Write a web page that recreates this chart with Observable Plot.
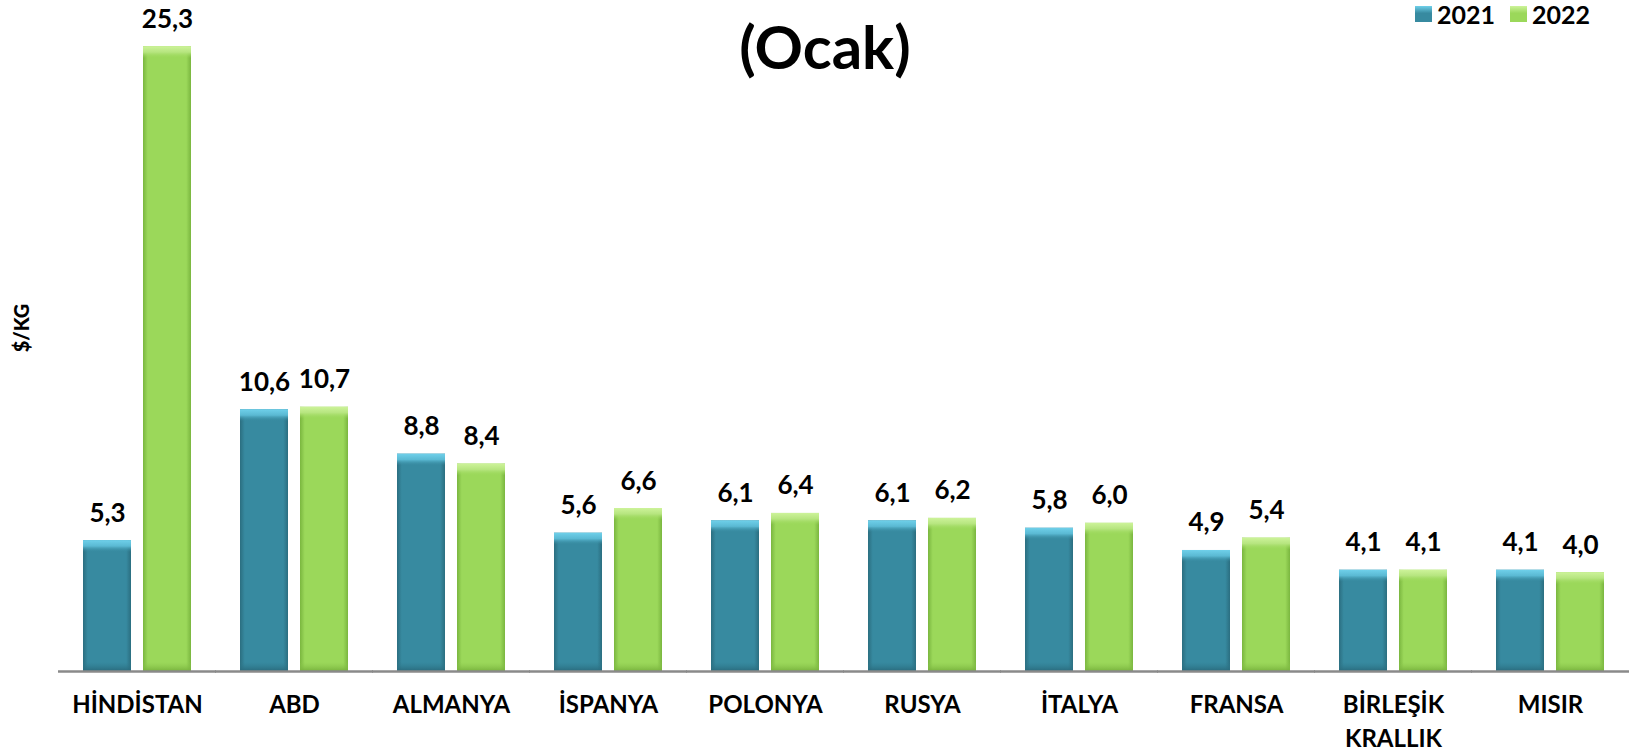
<!DOCTYPE html>
<html>
<head>
<meta charset="utf-8">
<script src="https://cdn.jsdelivr.net/npm/d3@7"></script>
<script src="https://cdn.jsdelivr.net/npm/@observablehq/plot@0.6"></script>
<style>
  html, body { margin: 0; padding: 0; background: #fff; }
  #wrap { position: relative; width: 1631px; height: 752px; overflow: hidden; font-family: Lato, "Open Sans", sans-serif; font-weight: bold; }
  #title { position: absolute; left: 0; width: 1650px; top: 10px; text-align: center; font-size: 60px; line-height: 72px; color: #000; }
  #ylabel { position: absolute; left: 21px; top: 328px; transform: translate(-50%, -50%) rotate(-90deg); font-size: 20px; font-weight: 900; white-space: nowrap; }
  #legend { position: absolute; left: 1415px; top: 0px; display: flex; align-items: center; font-size: 25px; line-height: 28px; }
  #legend .sw { width: 17px; height: 16px; display: inline-block; margin-right: 5px; }
  #legend .item { display: flex; align-items: center; margin-right: 15px; }
</style>
</head>
<body>
<div id="wrap">
  <div id="chart"></div>
  <div id="title">(Ocak)</div>
  <div id="ylabel">$/KG</div>
  <div id="legend"></div>
</div>
<script>
const countries = ["HİNDİSTAN", "ABD", "ALMANYA", "İSPANYA", "POLONYA", "RUSYA", "İTALYA", "FRANSA", "BİRLEŞİK KRALLIK", "MISIR"];
const years = ["2021", "2022"];
const values2021 = [5.3, 10.6, 8.8, 5.6, 6.1, 6.1, 5.8, 4.9, 4.1, 4.1];
const values2022 = [25.3, 10.7, 8.4, 6.6, 6.4, 6.2, 6.0, 5.4, 4.1, 4.0];

const data = [];
countries.forEach((c, i) => {
  data.push({country: c, year: "2021", value: values2021[i]});
  data.push({country: c, year: "2022", value: values2022[i]});
});
const d21 = data.filter(d => d.year === "2021");
const d22 = data.filter(d => d.year === "2022");
const fmt = v => d3.format(".1f")(v).replace(".", ",");

const font = "Lato, 'Open Sans', sans-serif";

const chart = Plot.plot({
  width: 1631,
  height: 752,
  marginLeft: 57,
  marginRight: 1,
  marginTop: 20,
  marginBottom: 81,
  style: {fontFamily: font, fontWeight: "bold", color: "#000", background: "#fff"},
  fx: {domain: countries, paddingInner: 0.31, paddingOuter: 0.155, label: null},
  x: {domain: years, paddingInner: 0.2, paddingOuter: 0, axis: null},
  y: {domain: [0, 26.36], axis: null},
  marks: [
    Plot.barY(d21, {fx: "country", x: "year", y: "value", fill: "url(#g2021)"}),
    Plot.barY(d22, {fx: "country", x: "year", y: "value", fill: "url(#g2022)"}),
    Plot.barY(d21, {fx: "country", x: "year", y1: "value", y2: "value", insetBottom: -12, fill: "url(#t2021)"}),
    Plot.barY(d22, {fx: "country", x: "year", y1: "value", y2: "value", insetBottom: -12, fill: "url(#t2022)"}),
    Plot.barY(d21, {fx: "country", x: "year", y1: 0, y2: 0, insetTop: -9, fill: "url(#b2021)"}),
    Plot.barY(d22, {fx: "country", x: "year", y1: 0, y2: 0, insetTop: -9, fill: "url(#b2022)"}),
    Plot.ruleY([0], {stroke: "#8a8a8a", strokeWidth: 2.5, insetLeft: -25, insetRight: -25}),
    Plot.text(data, {fx: "country", x: "year", y: "value", text: d => fmt(d.value), lineAnchor: "bottom", dy: -19, fontSize: 26, fontWeight: "bold", fill: "#000"}),
    Plot.axisFx({anchor: "bottom", tickSize: 0, tickPadding: 17, fontSize: 24, lineHeight: 1.42, fontWeight: "bold", label: null,
      tickFormat: d => d === "BİRLEŞİK KRALLIK" ? "BİRLEŞİK\nKRALLIK" : d})
  ]
});

const svg = d3.select(chart);
const defs = svg.insert("defs", ":first-child");
function hgrad(id, edge, body) {
  const g = defs.append("linearGradient").attr("id", id).attr("x1", 0).attr("x2", 1).attr("y1", 0).attr("y2", 0);
  [[0, edge], [0.1, body], [0.9, body], [1, edge]].forEach(([o, c]) => g.append("stop").attr("offset", o).attr("stop-color", c));
}
function vgrad(id, stops) {
  const g = defs.append("linearGradient").attr("id", id).attr("x1", 0).attr("x2", 0).attr("y1", 0).attr("y2", 1);
  stops.forEach(([o, c, op]) => g.append("stop").attr("offset", o).attr("stop-color", c).attr("stop-opacity", op));
}
hgrad("g2021", "#2b6e80", "#378aa0");
hgrad("g2022", "#7ab63f", "#9bd85a");
vgrad("t2021", [[0, "#6fd0ea", 1], [0.5, "#5ab9d3", 1], [1, "#378aa0", 0]]);
vgrad("t2022", [[0, "#cdf39a", 1], [0.5, "#b6e57f", 1], [1, "#9bd85a", 0]]);
vgrad("b2021", [[0, "#2f7b8f", 0], [1, "#2a6b7d", 1]]);
vgrad("b2022", [[0, "#8cc84d", 0], [1, "#78b33d", 1]]);

document.getElementById("chart").appendChild(chart);

const legend = document.getElementById("legend");
const swatchColors = {"2021": "#378aa0", "2022": "#9bd85a"};
years.forEach(y => {
  const item = document.createElement("div");
  item.className = "item";
  const sw = document.createElement("span");
  sw.className = "sw";
  sw.style.background = `linear-gradient(180deg, ${y === "2021" ? "#6fd0ea" : "#cdf39a"} 0%, ${swatchColors[y]} 45%, ${swatchColors[y]} 100%)`;
  const t = document.createElement("span");
  t.textContent = y;
  item.appendChild(sw);
  item.appendChild(t);
  legend.appendChild(item);
});
</script>
</body>
</html>
